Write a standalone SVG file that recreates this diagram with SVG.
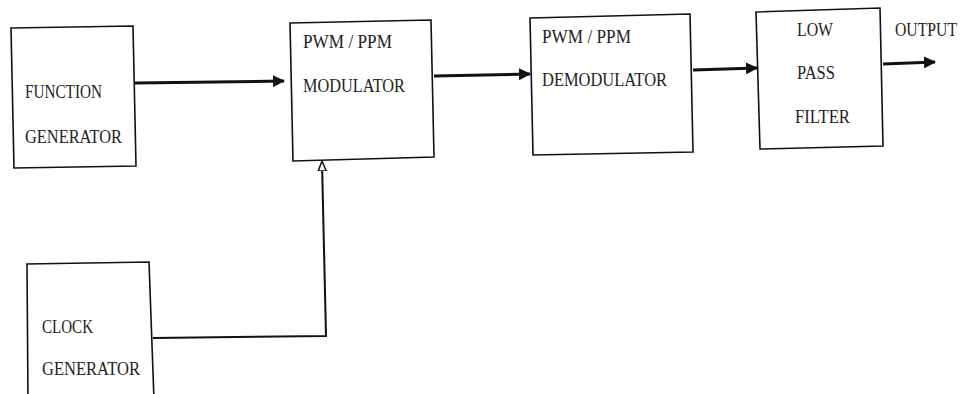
<svg xmlns="http://www.w3.org/2000/svg" width="966" height="394" viewBox="0 0 966 394">
<style>
.box{fill:none;stroke:#111;stroke-width:1.6}
.lbl{font-family:"Liberation Serif","DejaVu Serif",serif;font-size:18px;fill:#222}
.arr{stroke:#111;stroke-width:3;fill:none}
.thin{stroke:#111;stroke-width:2;fill:none}
</style>
<defs>
<marker id="ah" markerWidth="12" markerHeight="12" refX="11" refY="6" orient="auto" markerUnits="userSpaceOnUse"><path d="M0,0 L12,6 L0,12 Z" fill="#111"/></marker>
<marker id="ah2" markerWidth="10" markerHeight="10" refX="9" refY="5" orient="auto" markerUnits="userSpaceOnUse"><path d="M0,1 L10,5 L0,9 Z" fill="#fff" stroke="#111" stroke-width="1.5"/></marker>
</defs>
<rect width="966" height="394" fill="#fff"/>
<g id="function-generator">
<path class="box" d="M11,28 L133,26 L136,166 L14,168 Z"/>
<text class="lbl" x="25" y="98" textLength="77" lengthAdjust="spacingAndGlyphs">FUNCTION</text>
<text class="lbl" x="25" y="143" textLength="97" lengthAdjust="spacingAndGlyphs">GENERATOR</text>
</g>
<g id="modulator">
<path class="box" d="M290,23 L431,20 L434,157 L293,161 Z"/>
<text class="lbl" x="303" y="48" textLength="89" lengthAdjust="spacingAndGlyphs">PWM / PPM</text>
<text class="lbl" x="303" y="92" textLength="102" lengthAdjust="spacingAndGlyphs">MODULATOR</text>
</g>
<g id="demodulator">
<path class="box" d="M530,18 L690,14 L693,152 L533,155 Z"/>
<text class="lbl" x="542" y="43" textLength="89" lengthAdjust="spacingAndGlyphs">PWM / PPM</text>
<text class="lbl" x="542" y="86" textLength="125" lengthAdjust="spacingAndGlyphs">DEMODULATOR</text>
</g>
<g id="low-pass-filter">
<path class="box" d="M756,12 L880,8 L883,146 L760,149 Z"/>
<text class="lbl" x="797" y="36" textLength="36" lengthAdjust="spacingAndGlyphs">LOW</text>
<text class="lbl" x="797" y="79" textLength="38" lengthAdjust="spacingAndGlyphs">PASS</text>
<text class="lbl" x="795" y="123" textLength="55" lengthAdjust="spacingAndGlyphs">FILTER</text>
</g>
<g id="clock-generator">
<path class="box" d="M28,400 L27,264 L149,262 L154,400"/>
<text class="lbl" x="42" y="333" textLength="51" lengthAdjust="spacingAndGlyphs">CLOCK</text>
<text class="lbl" x="42" y="375" textLength="98" lengthAdjust="spacingAndGlyphs">GENERATOR</text>
</g>
<g id="output-label">
<text class="lbl" x="895" y="36" textLength="62" lengthAdjust="spacingAndGlyphs">OUTPUT</text>
</g>
<g id="connectors">
<line class="arr" x1="135" y1="83" x2="284" y2="81" marker-end="url(#ah)"/>
<line class="arr" x1="434" y1="76" x2="530" y2="74" marker-end="url(#ah)"/>
<line class="arr" x1="693" y1="70" x2="757" y2="68" marker-end="url(#ah)"/>
<line class="arr" x1="883" y1="64" x2="935" y2="62" marker-end="url(#ah)"/>
<polyline class="thin" points="153,338 326,336 322,162" marker-end="url(#ah2)"/>
</g>
</svg>
